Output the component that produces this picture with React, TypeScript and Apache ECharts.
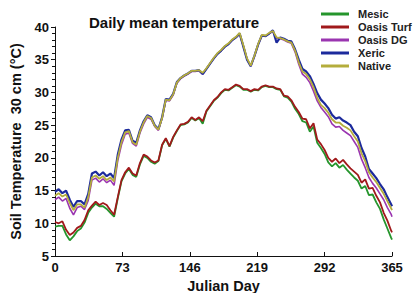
import React, { useEffect, useRef } from "react";
import * as echarts from "echarts";

const days = [
  0, 4, 8, 12, 16, 20, 24, 28, 32, 36, 40, 44, 48, 52, 56, 60, 64,
  68, 72, 76, 80, 84, 88, 92, 96, 100, 104, 108, 112, 116, 120, 124, 128,
  132, 136, 140, 144, 148, 152, 156, 160, 164, 168, 172, 176, 180, 184, 188, 192,
  196, 200, 204, 208, 212, 216, 220, 224, 228, 232, 236, 240, 244, 248, 252, 256,
  260, 264, 268, 272, 276, 280, 284, 288, 292, 296, 300, 304, 308, 312, 316, 320,
  324, 328, 332, 336, 340, 344, 348, 352, 356, 360, 364, 365,
];

const mesic = [
  9.5, 9.6, 9.6, 8.3, 7.4, 8.0, 8.8, 9.2, 10.1, 11.6, 12.4, 13.0, 12.6, 12.6, 12.2, 11.6, 11.0,
  13.8, 16.4, 17.6, 18.3, 17.4, 17.1, 19.0, 20.3, 20.0, 19.4, 19.1, 19.5, 21.9, 22.9, 21.7, 23.1,
  24.1, 25.0, 25.1, 25.4, 26.1, 25.7, 26.1, 25.2, 27.1, 27.9, 28.7, 29.2, 29.9, 30.4, 30.3, 30.7,
  31.1, 30.9, 30.4, 30.4, 30.1, 30.4, 30.3, 30.8, 31.0, 30.8, 30.8, 30.5, 30.4, 29.4, 29.2, 28.6,
  27.5, 26.7, 25.6, 25.4, 24.0, 24.8, 22.3, 21.5, 20.6, 19.3, 18.7, 19.2, 18.5, 18.9, 18.2, 17.6,
  17.0, 16.5, 15.3, 15.7, 14.3, 14.4, 13.2, 12.2, 10.6, 9.2, 7.8, 7.5,
];

const oasisTurf = [
  10.2, 10.0, 10.3, 9.0, 8.2, 8.6, 9.3, 9.6, 10.5, 12.0, 12.7, 13.3, 12.8, 13.1, 12.8, 12.0, 11.3,
  14.0, 16.6, 17.8, 18.5, 17.6, 17.3, 19.2, 20.5, 20.2, 19.6, 19.3, 19.6, 22.0, 23.0, 21.8, 23.2,
  24.2, 25.1, 25.2, 25.5, 26.2, 25.8, 26.2, 25.6, 27.2, 28.0, 28.8, 29.3, 30.0, 30.5, 30.4, 30.8,
  31.2, 31.0, 30.5, 30.5, 30.2, 30.5, 30.4, 30.9, 31.1, 30.9, 30.9, 30.6, 30.5, 29.5, 29.4, 28.8,
  27.8, 27.0, 26.0, 25.9, 24.5, 25.3, 22.8, 22.1, 21.2, 20.0, 19.4, 19.9, 19.2, 19.7, 19.0, 18.4,
  17.9, 17.4, 16.2, 16.7, 15.3, 15.4, 14.2, 13.2, 11.6, 10.4, 8.9, 8.6,
];

const oasisDG = [
  13.6, 14.0, 13.4, 13.8, 12.3, 11.3, 12.4, 12.6, 12.1, 13.5, 16.6, 16.9, 16.3, 16.8, 16.2, 16.6, 15.8,
  19.6, 22.0, 23.6, 23.8, 22.2, 21.8, 23.8, 25.2, 26.2, 25.9, 24.8, 24.2, 26.0, 28.8, 28.7, 29.6,
  31.4, 32.1, 32.5, 32.8, 33.2, 33.2, 33.3, 32.8, 33.6, 34.4, 35.2, 35.9, 36.4, 37.0, 37.4, 38.0,
  38.4, 38.9, 37.1, 35.1, 34.0, 35.5, 37.3, 38.7, 38.6, 39.0, 39.3, 38.3, 38.2, 38.0, 37.7, 37.5,
  36.2, 34.3, 32.8, 32.3, 31.5, 30.2, 28.7, 27.7, 27.0, 26.3, 25.2, 24.7, 24.8, 24.2, 23.8, 23.4,
  22.5, 21.6, 19.8, 18.5, 17.0, 16.1, 15.4, 14.5, 13.6, 12.4, 11.4, 11.0,
];

const xeric = [
  14.8, 15.2, 14.6, 15.0, 13.6, 12.5, 13.4, 13.4, 12.9, 14.5, 17.6, 17.9, 17.3, 17.8, 17.2, 17.6, 16.9,
  20.5, 22.8, 24.2, 24.3, 22.6, 22.3, 24.2, 25.6, 26.5, 26.2, 25.0, 24.4, 26.2, 29.0, 28.9, 29.8,
  31.6, 32.2, 32.6, 32.9, 33.3, 33.3, 33.4, 32.8, 33.6, 34.4, 35.2, 35.9, 36.4, 37.0, 37.4, 38.0,
  38.4, 39.0, 37.0, 35.0, 34.0, 35.6, 37.3, 38.7, 38.6, 39.0, 39.5, 37.6, 38.4, 38.2, 37.9, 37.8,
  36.6, 35.0, 33.6, 33.2, 32.5, 31.3, 29.9, 28.9, 28.3, 27.6, 26.6, 26.0, 26.2, 25.7, 25.4, 25.0,
  24.0, 23.3, 21.5, 20.2, 18.3, 17.6, 16.9, 16.0, 15.2, 14.0, 12.9, 12.6,
];

const native = [
  14.2, 14.6, 14.1, 14.4, 13.1, 12.0, 12.9, 12.9, 12.4, 14.0, 17.0, 17.3, 16.8, 17.2, 16.6, 17.0, 16.4,
  20.0, 22.4, 23.9, 24.1, 22.4, 22.0, 24.0, 25.4, 26.4, 26.1, 24.9, 24.3, 26.1, 28.9, 28.8, 29.7,
  31.5, 32.2, 32.6, 32.9, 33.3, 33.3, 33.4, 33.0, 33.7, 34.5, 35.3, 36.0, 36.5, 37.1, 37.5, 38.1,
  38.5, 39.1, 37.2, 35.2, 34.1, 35.6, 37.4, 38.8, 38.7, 39.1, 39.4, 38.4, 38.3, 38.1, 37.8, 37.6,
  36.4, 34.6, 33.2, 32.8, 32.0, 30.8, 29.2, 28.1, 27.6, 26.9, 25.9, 25.4, 25.4, 24.9, 24.6, 24.2,
  23.3, 22.5, 20.7, 19.5, 17.8, 17.0, 16.3, 15.4, 14.5, 13.4, 12.3, 12.0,
];

const seriesNames = ["Mesic", "Oasis Turf", "Oasis DG", "Xeric", "Native"];
const seriesData = [mesic, oasisTurf, oasisDG, xeric, native];
const seriesColors = ["#25952c", "#a0191b", "#9a35b0", "#1c2a9c", "#b4ad3c"];
const seriesWidths = [1.8, 1.8, 1.6, 2.2, 1.8];

const FONT = "Arial, 'Liberation Sans', sans-serif";

export default function App() {
  const ref = useRef<HTMLDivElement>(null);
  useEffect(() => {
    if (!ref.current) return;
    const chart = echarts.init(ref.current, null, { renderer: "svg" });
    chart.setOption({
      animation: false,
      backgroundColor: "#ffffff",
      title: {
        text: "Daily mean temperature",
        left: 84,
        top: 10,
        textStyle: { fontFamily: FONT, fontSize: 15, fontWeight: "bold", color: "#111" },
      },
      legend: {
        orient: "vertical",
        left: 316,
        top: 3,
        icon: "rect",
        itemWidth: 28,
        itemHeight: 3,
        itemGap: 1,
        data: seriesNames,
        textStyle: {
          fontFamily: FONT,
          fontSize: 11,
          fontWeight: "bold",
          color: "#222",
          lineHeight: 12,
          padding: [0, 0, 0, 4],
        },
      },
      grid: { left: 55, right: 24, top: 27, bottom: 37, outerBoundsMode: "none", containLabel: false },
      xAxis: {
        type: "value",
        min: 0,
        max: 365,
        interval: 73,
        name: "Julian Day",
        nameLocation: "middle",
        nameGap: 17,
        nameTextStyle: { fontFamily: FONT, fontSize: 14.5, fontWeight: "bold", color: "#111" },
        axisLine: { show: true, lineStyle: { color: "#111", width: 1 } },
        axisTick: { show: true, inside: true, length: 4, lineStyle: { color: "#111" } },
        axisLabel: { fontFamily: FONT, fontSize: 13, fontWeight: "bold", color: "#111", margin: 5 },
        splitLine: { show: false },
      },
      yAxis: {
        type: "value",
        min: 5,
        max: 40,
        interval: 5,
        name: "Soil Temperature  30 cm (°C)",
        nameLocation: "middle",
        nameGap: 21,
        nameTextStyle: { fontFamily: FONT, fontSize: 14.5, fontWeight: "bold", color: "#111" },
        axisLine: { show: true, lineStyle: { color: "#111", width: 1 } },
        axisTick: { show: true, inside: false, length: 4, lineStyle: { color: "#111" } },
        minorTick: { show: true, splitNumber: 5, length: 3, lineStyle: { color: "#111" } },
        axisLabel: { fontFamily: FONT, fontSize: 13, fontWeight: "bold", color: "#111", margin: 6 },
        splitLine: { show: false },
      },
      series: seriesNames.map((name, i) => ({
        name,
        type: "line",
        symbol: "none",
        showSymbol: false,
        color: seriesColors[i],
        lineStyle: { color: seriesColors[i], width: seriesWidths[i] },
        data: days.map((d, j) => [d, seriesData[i][j]]),
      })),
    });
    return () => chart.dispose();
  }, []);
  return (
    <div
      ref={ref}
      style={{ position: "absolute", left: 0, top: 0, width: 416, height: 293 }}
    />
  );
}
